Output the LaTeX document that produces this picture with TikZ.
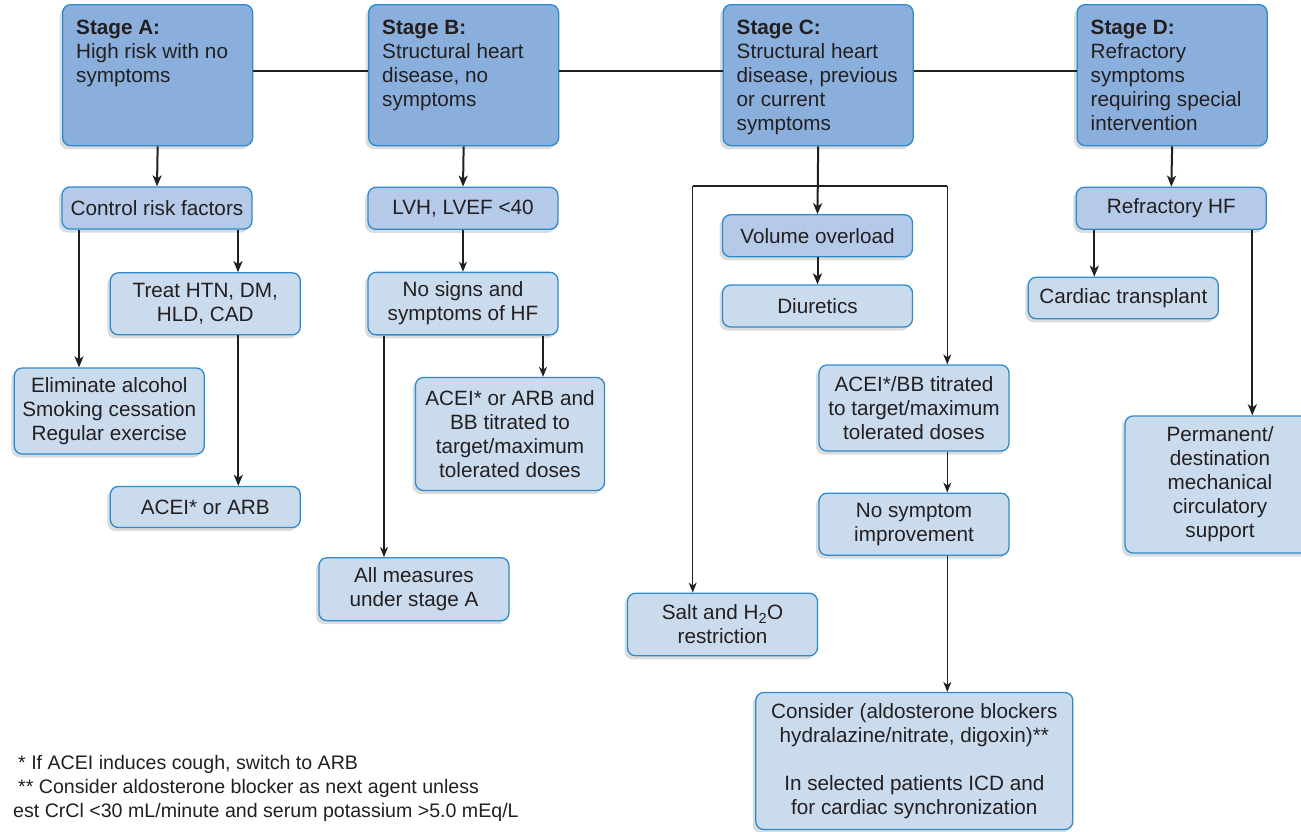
\documentclass[tikz,border=0pt]{standalone}
\usepackage{fontspec}
\setmainfont{Liberation Sans}
\usetikzlibrary{shadows,arrows.meta,calc}
\definecolor{stagefill}{HTML}{8AAFDC}
\definecolor{lvlone}{HTML}{B4CAE8}
\definecolor{lvltwo}{HTML}{CBDBEE}
\definecolor{edgeblue}{HTML}{2E8BCB}
\definecolor{ink}{HTML}{231F20}
\begin{document}
\begin{tikzpicture}[x=1pt,y=-1pt,
  basebox/.style={draw=edgeblue, line width=1.3pt, rounded corners=8pt,
    inner sep=0pt, minimum width=190pt,
    drop shadow={shadow xshift=-3pt, shadow yshift=-3.5pt, opacity=0.28}},
  box/.style={basebox, fill=lvltwo, align=center, text=ink,
    font=\fontsize{20.7}{24}\selectfont},
  boxone/.style={box, fill=lvlone},
  stagebox/.style={basebox, fill=stagefill, minimum height=141pt, anchor=north west},
  stagetext/.style={anchor=north west, inner sep=0pt, align=left, text=ink,
    font=\fontsize{20.7}{24}\selectfont},
  conn/.style={draw=ink, line width=2pt},
  arrthick/.style={draw=ink, line width=2pt, -{Stealth[length=11pt,width=9pt,inset=3pt]}},
  arrthin/.style={draw=ink, line width=1.2pt, -{Stealth[length=10pt,width=8pt,inset=3pt]}},
  thinln/.style={draw=ink, line width=1.2pt}
]
\useasboundingbox (0,0) rectangle (1301,831);
\clip (0,0) rectangle (1301,831);

% ---- stage boxes
\node[stagebox] (sA) at (62,4) {};
\node[stagebox] (sB) at (368,4) {};
\node[stagebox] (sC) at (722.5,4) {};
\node[stagebox] (sD) at (1076.5,4) {};
\node[stagetext] (sAt) at ($(sA.north west)+(14,16)$) {\textbf{Stage A:}\\High risk with no\\symptoms};
\node[stagetext] (sBt) at ($(sB.north west)+(14,16)$) {\textbf{Stage B:}\\Structural heart\\disease, no\\symptoms};
\node[stagetext] (sCt) at ($(sC.north west)+(14,16)$) {\textbf{Stage C:}\\Structural heart\\disease, previous\\or current\\symptoms};
\node[stagetext] (sDt) at ($(sD.north west)+(14,16)$) {\textbf{Stage D:}\\Refractory\\symptoms\\requiring special\\intervention};

\draw[conn] ([yshift=4pt]sA.east) -- ([yshift=4pt]sB.west);
\draw[conn] ([yshift=4pt]sB.east) -- ([yshift=4pt]sC.west);
\draw[conn] ([yshift=4pt]sC.east) -- ([yshift=4pt]sD.west);

% ---- stage A column
\node[boxone, minimum height=42pt] (ctrl) at (157,208) {Control risk factors};
\node[box, minimum height=62pt] (treat) at (205.3,303.8) {Treat HTN, DM,\\HLD, CAD};
\node[box, minimum height=86pt] (elim) at (109.3,411) {Eliminate alcohol\\Smoking cessation\\Regular exercise};
\node[box, minimum height=41pt] (aceiA) at (205.3,507) {ACEI* or ARB};

\draw[arrthick] (sA.south) -- (ctrl.north);
\coordinate (a1) at ([xshift=-78pt]ctrl.south);
\coordinate (a2) at ([xshift=81pt]ctrl.south);
\coordinate (a3) at ([xshift=33pt]treat.south);
\draw[arrthick] (a1) -- (a1 |- elim.north);
\draw[arrthick] (a2) -- (a2 |- treat.north);
\draw[arrthick] (a3) -- (a3 |- aceiA.north);

% ---- stage B column
\node[boxone, minimum height=42pt] (lvh) at (463,208.3) {LVH, LVEF <40};
\node[box, minimum height=62.5pt] (nosig) at (463,303.6) {No signs and\\symptoms of HF};
\node[box, minimum width=189pt, minimum height=113pt] (aceiB) at (510,434) {ACEI* or ARB and\\BB titrated to\\target/maximum\\tolerated doses};
\node[box, minimum height=63pt] (allm) at (414,589.2) {All measures\\under stage A};

\draw[arrthick] (sB.south) -- (lvh.north);
\draw[arrthin] (lvh.south) -- (nosig.north);
\coordinate (b1) at ([xshift=80pt]nosig.south);
\coordinate (b2) at ([xshift=-79pt]nosig.south);
\draw[arrthin] (b1) -- (b1 |- aceiB.north);
\draw[arrthin] (b2) -- (b2 |- allm.north);

% ---- stage C column
\node[boxone, minimum height=42pt] (vol) at (817.5,235.8) {Volume overload};
\node[box, minimum height=42pt] (diu) at (817.5,306) {Diuretics};
\node[box, minimum height=86pt] (acbb) at (914,408) {ACEI*/BB titrated\\to target/maximum\\tolerated doses};
\node[box, minimum height=62pt] (nosym) at (914,524.2) {No symptom\\improvement};
\node[box, minimum height=62.5pt] (salt) at (722.5,624.5) {Salt and H\textsubscript{2}O\\restriction};
\node[box, minimum width=317pt, minimum height=137pt] (cons) at (914.3,761) {Consider (aldosterone blockers\\hydralazine/nitrate, digoxin)**\\[24pt]In selected patients ICD and\\for cardiac synchronization};

\draw[arrthick] (sC.south) -- (vol.north);
\draw[arrthick] (vol.south) -- (diu.north);
\coordinate (cL) at (692.7,186);
\coordinate (cR) at (947.3,186);
\draw[thinln] (cL) -- (cR);
\draw[arrthin] (cL) -- (cL |- salt.north);
\draw[arrthin] (cR) -- (cR |- acbb.north);
\draw[arrthin] (cR |- acbb.south) -- (cR |- nosym.north);
\draw[arrthin] (cR |- nosym.south) -- (cR |- cons.north);

% ---- stage D column
\node[boxone, minimum height=42pt] (refr) at (1171.3,208.3) {Refractory HF};
\node[box, minimum height=41.5pt] (cardt) at (1123.3,298) {Cardiac transplant};
\node[box, minimum height=137pt] (perm) at (1220,484.5) {Permanent/\\destination\\mechanical\\circulatory\\support};

\draw[arrthick] (sD.south) -- (refr.north);
\coordinate (d1) at ([xshift=-77pt]refr.south);
\coordinate (d2) at ([xshift=81pt]refr.south);
\draw[arrthick] (d1) -- (d1 |- cardt.north);
\draw[arrthick] (d2) -- (d2 |- perm.north);

% ---- footnote
\node[anchor=north west, align=left, inner sep=0pt, text=ink,
  font=\fontsize{19.6}{24}\selectfont] (fn) at (13,755)
  {\hspace*{5pt}* If ACEI induces cough, switch to ARB\\
   \hspace*{5pt}** Consider aldosterone blocker as next agent unless\\
   est CrCl <30 mL/minute and serum potassium >5.0 mEq/L};
\end{tikzpicture}
\end{document}
